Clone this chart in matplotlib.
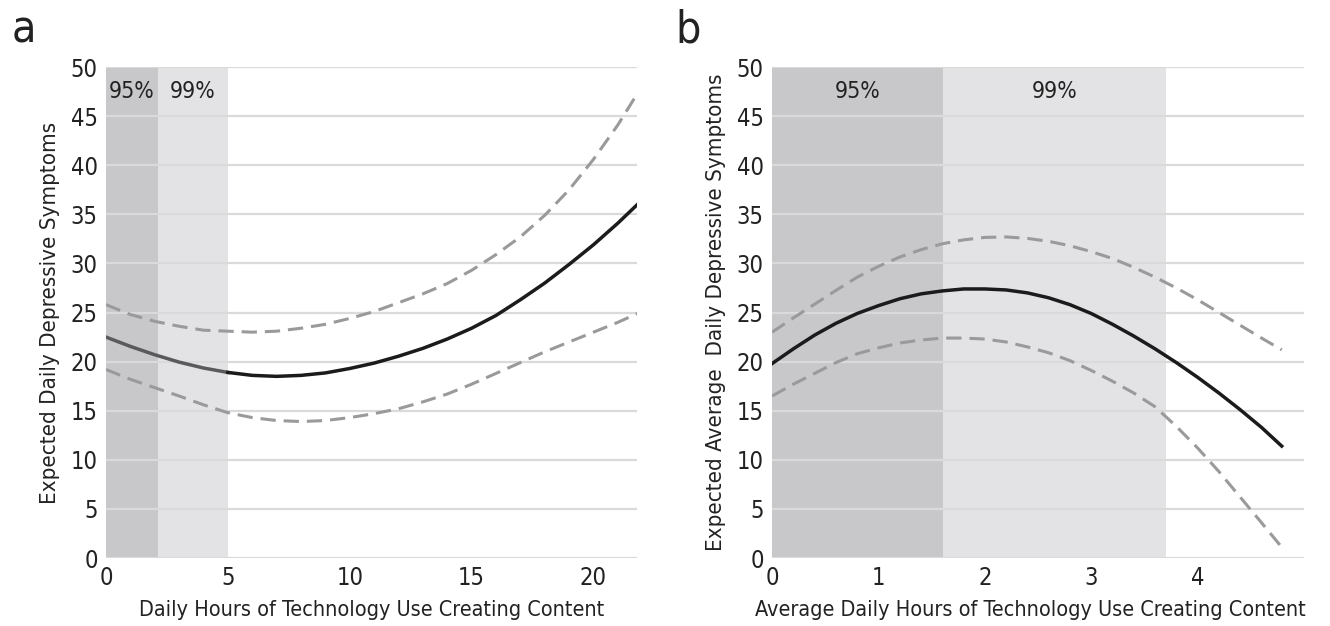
import numpy as np
import matplotlib
matplotlib.use("Agg")
import matplotlib.pyplot as plt

# condensed face, closest installed match to the reference's narrow grotesque
plt.rcParams['font.family'] = ['DejaVu Sans', 'Liberation Sans']
plt.rcParams['font.stretch'] = 'condensed'

# panel a: daily hours creating content
hours_a = [0, 1, 2, 3, 4, 5, 6, 7, 8, 9, 10, 11, 12, 13, 14, 15, 16, 17, 18, 19, 20, 21, 21.8]
fit_a = [22.5, 21.55, 20.7, 19.95, 19.35, 18.9, 18.6, 18.5, 18.6, 18.85, 19.3, 19.85,
         20.55, 21.35, 22.3, 23.4, 24.7, 26.3, 28.0, 29.9, 31.9, 34.1, 36.0]
upper_a = [25.8, 24.8, 24.1, 23.6, 23.2, 23.1, 23.0, 23.1, 23.4, 23.8, 24.4, 25.1,
           26.0, 26.9, 27.95, 29.3, 30.9, 32.7, 34.9, 37.5, 40.6, 44.1, 47.3]
lower_a = [19.2, 18.2, 17.35, 16.5, 15.6, 14.8, 14.3, 14.0, 13.9, 14.0, 14.3, 14.7,
           15.2, 15.9, 16.7, 17.7, 18.8, 19.9, 21.0, 22.0, 23.0, 24.0, 24.9]
region95_a = 2.13
region99_a = 5.0

# panel b: average daily hours creating content
hours_b = [0, 0.2, 0.4, 0.6, 0.8, 1.0, 1.2, 1.4, 1.6, 1.8, 2.0, 2.2, 2.4, 2.6, 2.8,
           3.0, 3.2, 3.4, 3.6, 3.8, 4.0, 4.2, 4.4, 4.6, 4.79]
fit_b = [19.8, 21.3, 22.7, 23.9, 24.9, 25.7, 26.4, 26.9, 27.2, 27.4, 27.4, 27.3, 27.0,
         26.5, 25.8, 24.9, 23.8, 22.6, 21.3, 19.9, 18.4, 16.8, 15.1, 13.3, 11.4]
upper_b = [23.0, 24.45, 25.85, 27.25, 28.6, 29.7, 30.65, 31.4, 32.0, 32.4, 32.65, 32.7,
           32.55, 32.25, 31.8, 31.2, 30.5, 29.6, 28.6, 27.5, 26.3, 25.0, 23.7, 22.4, 21.2]
lower_b = [16.5, 17.7, 18.8, 19.9, 20.8, 21.4, 21.9, 22.2, 22.4, 22.4, 22.3, 22.0, 21.5,
           20.9, 20.1, 19.1, 18.0, 16.8, 15.4, 13.4, 11.2, 8.8, 6.2, 3.6, 1.1]
region95_b = 1.61
region99_b = 3.70

yticks = [0, 5, 10, 15, 20, 25, 30, 35, 40, 45, 50]
TXT = '#222222'
DASH = (0, (5, 2.6))

fig = plt.figure(figsize=(13.3, 6.26), dpi=100)
ax1 = fig.add_axes([0.0797, 0.1086, 0.3995, 0.7843])
ax2 = fig.add_axes([0.5805, 0.1086, 0.4000, 0.7843])


def style_axis(ax, xmax, xticks, r95, r99, ylabel, xlabel, xlab_x):
    ax.axvspan(0, r95, color='#c8c8ca', lw=0, zorder=0)
    ax.axvspan(r95, r99, color='#e3e3e5', lw=0, zorder=0)
    for v in yticks:
        ax.axhline(v, color='#dadadb', lw=1.6, zorder=1)
    ax.text(r95 / 2, 47.5, '95%', ha='center', va='center', fontsize=16.5, color=TXT)
    ax.text((r95 + r99) / 2, 47.5, '99%', ha='center', va='center', fontsize=16.5, color=TXT)
    ax.set_xlim(0, xmax)
    ax.set_ylim(0, 50)
    ax.set_xticks(xticks)
    ax.set_yticks(yticks)
    for s in ax.spines.values():
        s.set_visible(False)
    ax.tick_params(length=0, labelsize=17, colors=TXT, pad=6)
    ax.set_ylabel(ylabel, fontsize=16, color=TXT, labelpad=8)
    ax.set_xlabel(xlabel, fontsize=15.5, color=TXT)
    ax.xaxis.set_label_coords(xlab_x, -0.085)


style_axis(ax1, 21.8, [0, 5, 10, 15, 20], region95_a, region99_a,
           'Expected Daily Depressive Symptoms',
           'Daily Hours of Technology Use Creating Content', 0.499)
style_axis(ax2, 5.0, [0, 1, 2, 3, 4], region95_b, region99_b,
           'Expected Average  Daily Depressive Symptoms',
           'Average Daily Hours of Technology Use Creating Content', 0.485)

# panel a lines
ha = np.array(hours_a)
fa = np.array(fit_a)
ax1.plot(ha, upper_a, color='#9a9a9c', lw=2.2, ls=DASH, zorder=3)
ax1.plot(ha, lower_a, color='#9a9a9c', lw=2.2, ls=DASH, zorder=3)
ax1.plot(ha[ha <= region99_a], fa[ha <= region99_a], color='#5a5a5c', lw=2.5, zorder=4)
ax1.plot(ha[ha >= region99_a], fa[ha >= region99_a], color='#1c1a1b', lw=2.5, zorder=4)

# panel b lines
ax2.plot(hours_b, upper_b, color='#9a9a9c', lw=2.2, ls=DASH, zorder=3)
ax2.plot(hours_b, lower_b, color='#9a9a9c', lw=2.2, ls=DASH, zorder=3)
ax2.plot(hours_b, fit_b, color='#1c1a1b', lw=2.5, zorder=4)

fig.text(0.009, 0.952, 'a', fontsize=32, color=TXT, va='center', ha='left')
fig.text(0.508, 0.952, 'b', fontsize=32, color=TXT, va='center', ha='left')

fig.savefig('out.png', dpi=100)
